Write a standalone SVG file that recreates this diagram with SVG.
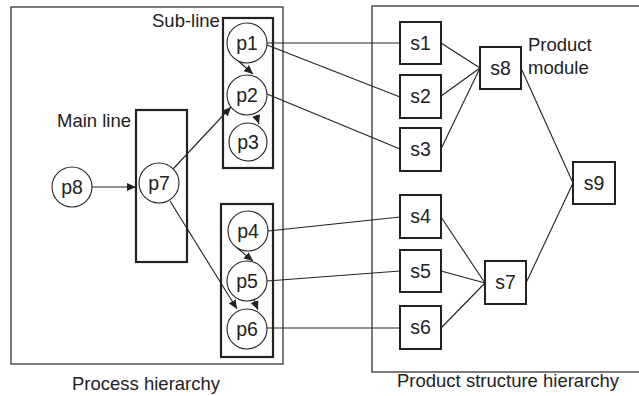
<svg xmlns="http://www.w3.org/2000/svg" width="639" height="396" viewBox="0 0 639 396">
<style>
text{font-family:"Liberation Sans",Arial,sans-serif;font-size:18.5px;fill:#222}
.lbl{text-anchor:middle;font-size:19.5px}
.frame{fill:none;stroke:#333;stroke-width:1.3}
.grp{fill:none;stroke:#222;stroke-width:2.2}
.circ{fill:#fff;stroke:#222;stroke-width:1.1}
.box{fill:#fff;stroke:#222;stroke-width:2}
.ln{fill:none;stroke:#222;stroke-width:1.1}
.arr{fill:none;stroke:#222;stroke-width:1.1;marker-end:url(#ah)}
</style>
<defs>
<marker id="ah" markerUnits="userSpaceOnUse" markerWidth="10" markerHeight="8" refX="9" refY="4" orient="auto">
<path d="M0,0 L9,4 L0,8 Z" fill="#222"/>
</marker>
</defs>
<rect id="process-hierarchy" class="frame" x="11" y="7" width="272" height="357"/>
<rect id="product-hierarchy" class="frame" x="372" y="6" width="280" height="366"/>
<text x="72" y="390">Process hierarchy</text>
<text x="397" y="387">Product structure hierarchy</text>
<g id="sub-line-1"><rect class="grp" x="223" y="18" width="50" height="150"/><text x="152" y="27">Sub-line</text></g>
<g id="sub-line-2"><rect class="grp" x="221" y="204" width="52" height="153"/></g>
<g id="main-line"><rect class="grp" x="136" y="110" width="51" height="152"/><text x="57" y="127">Main line</text></g>
<g id="connectors">
<line class="ln" x1="267" y1="43" x2="400" y2="43"/>
<line class="ln" x1="267" y1="45" x2="400" y2="97"/>
<line class="ln" x1="267" y1="94" x2="400" y2="149"/>
<line class="ln" x1="268" y1="231" x2="400" y2="217"/>
<line class="ln" x1="267" y1="281" x2="400" y2="271"/>
<line class="ln" x1="267" y1="328" x2="400" y2="328"/>
<line class="ln" x1="441" y1="43" x2="480" y2="68"/>
<line class="ln" x1="441" y1="96" x2="480" y2="68"/>
<line class="ln" x1="441" y1="149" x2="480" y2="68"/>
<line class="ln" x1="521" y1="68" x2="573" y2="183"/>
<line class="ln" x1="526" y1="283" x2="573" y2="183"/>
<line class="ln" x1="441" y1="217" x2="485" y2="283"/>
<line class="ln" x1="441" y1="271" x2="485" y2="283"/>
<line class="ln" x1="441" y1="328" x2="485" y2="283"/>
<path class="arr" d="M92,187 L136,187"/>
<path class="arr" d="M235,58 L253,74"/>
<path class="arr" d="M256,115 L259,124"/>
<path class="arr" d="M173,169 L231,107"/>
<path class="arr" d="M236,247 L253,261"/>
<path class="arr" d="M254,300 L258,310"/>
<path class="arr" d="M170,201 L237,309"/>
</g>
<g id="p1"><circle class="circ" cx="247" cy="43" r="20"/><text class="lbl" x="247" y="50">p1</text></g>
<g id="p2"><circle class="circ" cx="247" cy="95" r="20"/><text class="lbl" x="247" y="102">p2</text></g>
<g id="p3"><circle class="circ" cx="248" cy="142" r="19"/><text class="lbl" x="248" y="149">p3</text></g>
<g id="p4"><circle class="circ" cx="248" cy="231" r="20"/><text class="lbl" x="248" y="238">p4</text></g>
<g id="p5"><circle class="circ" cx="247" cy="281" r="20"/><text class="lbl" x="247" y="288">p5</text></g>
<g id="p6"><circle class="circ" cx="247" cy="329" r="20"/><text class="lbl" x="247" y="336">p6</text></g>
<g id="p7"><circle class="circ" cx="159" cy="183" r="20"/><text class="lbl" x="159" y="190">p7</text></g>
<g id="p8"><circle class="circ" cx="72" cy="187" r="20"/><text class="lbl" x="72" y="194">p8</text></g>
<g id="s1"><rect class="box" x="400" y="22" width="41" height="42"/><text class="lbl" x="420.5" y="50">s1</text></g>
<g id="s2"><rect class="box" x="400" y="75" width="41" height="43"/><text class="lbl" x="420.5" y="103">s2</text></g>
<g id="s3"><rect class="box" x="400" y="128" width="41" height="43"/><text class="lbl" x="420.5" y="156">s3</text></g>
<g id="s4"><rect class="box" x="400" y="195" width="41" height="43"/><text class="lbl" x="420.5" y="223">s4</text></g>
<g id="s5"><rect class="box" x="400" y="250" width="41" height="42"/><text class="lbl" x="420.5" y="278">s5</text></g>
<g id="s6"><rect class="box" x="400" y="306" width="41" height="43"/><text class="lbl" x="420.5" y="334">s6</text></g>
<g id="s7"><rect class="box" x="485" y="261" width="41" height="43"/><text class="lbl" x="505.5" y="289">s7</text></g>
<g id="s8"><rect class="box" x="480" y="47" width="41" height="42"/><text class="lbl" x="500.5" y="75">s8</text><text x="528" y="51">Product</text><text x="528" y="74">module</text></g>
<g id="s9"><rect class="box" x="573" y="162" width="42" height="42"/><text class="lbl" x="594" y="190">s9</text></g>
</svg>
